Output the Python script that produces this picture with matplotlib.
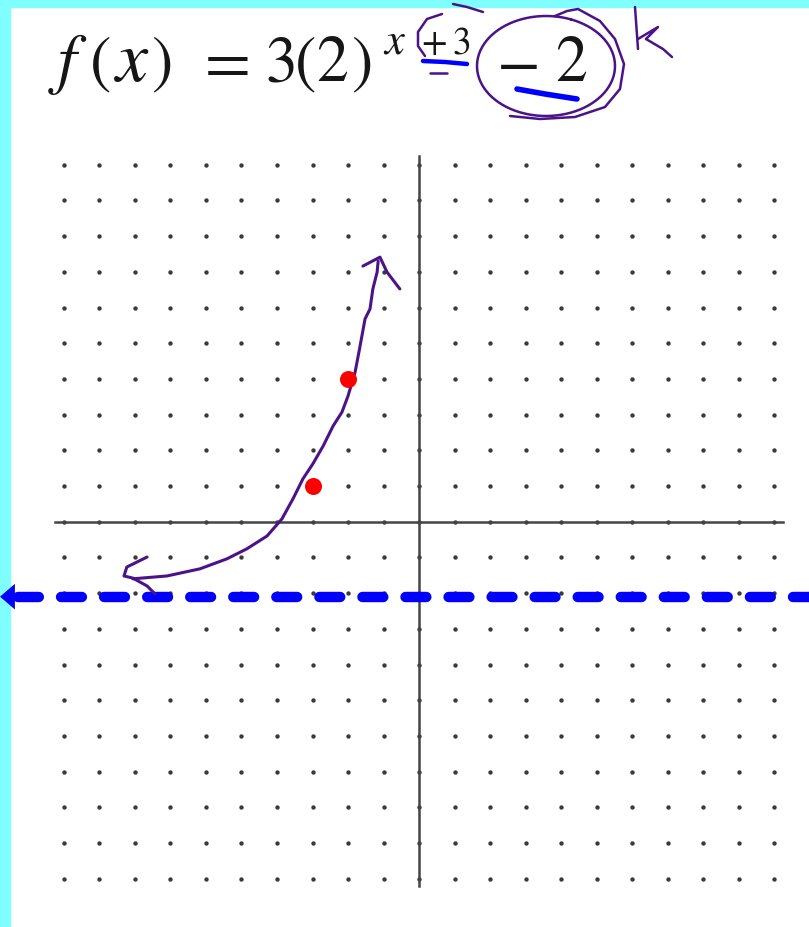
import numpy as np
import matplotlib.pyplot as plt
from matplotlib.patches import Rectangle
from matplotlib.transforms import Affine2D

plt.rcParams['mathtext.fontset'] = 'stix'
plt.rcParams['lines.scale_dashes'] = False

# dot grid and axes
grid_x = list(range(-10, 11))
grid_y = list(range(-10, 11))

# plotted points of f(x) = 3(2)^(x+3) - 2
points_x = [-3, -2]
points_y = [1, 4]

# horizontal asymptote
asymptote_y = -2.1

# hand sketched curve (lower arrow tip up to upper arrow tip)
curve_x = [-8.06, -7.10, -6.17, -5.41, -4.85, -4.28, -3.86, -3.55, -3.27, -2.99,
           -2.70, -2.42, -2.17, -2.00, -1.80, -1.66, -1.52, -1.38, -1.30, -1.18, -1.15]
curve_y = [-1.60, -1.52, -1.32, -1.04, -0.76, -0.40, 0.08, 0.64, 1.20, 1.62,
           2.12, 2.68, 3.07, 3.52, 4.19, 4.92, 5.68, 5.96, 6.52, 6.99, 7.30]
low_head_x = [-7.66, -8.23, -8.31, -8.06, -7.66, -7.44]
low_head_y = [-0.99, -1.27, -1.52, -1.58, -1.80, -2.02]
up_head_x = [-1.58, -1.10, -0.90, -0.54]
up_head_y = [7.16, 7.41, 6.99, 6.52]

# equation glyphs: (text, centre x px, baseline y px, size)
eq_parts = [(r'$f$', 68, 81, 48), (r'$($', 100, 81, 46), (r'$x$', 132, 81, 52),
            (r'$)$', 161, 81, 46), (r'$=$', 222, 81, 48),
            (r'$3$', 280, 81, 46), (r'$($', 305, 81, 46), (r'$2$', 332, 81, 46),
            (r'$)$', 361, 81, 46),
            (r'$x$', 395, 53, 32), (r'$+$', 434, 54, 27), (r'$3$', 461, 54, 27),
            (r'$-$', 517, 81, 46), (r'$2$', 571, 81, 46)]

W, H = 809, 928
fig = plt.figure(figsize=(W / 100, H / 100), dpi=100)
ax = fig.add_axes([0, 0, 1, 1])
ax.set_xlim(-419 / 35.5, (W - 419) / 35.5)
ax.set_ylim(-(H - 522.7) / 35.7, 522.7 / 35.7)
ax.axis('off')

# pixel coordinates, origin top left
pix = Affine2D().scale(1 / W, -1 / H).translate(0, 1) + fig.transFigure

cyan = '#80FFFF'
ax.add_patch(Rectangle((0, 0), W, 8, transform=pix, color=cyan, clip_on=False, zorder=0))
ax.add_patch(Rectangle((0, 0), 10.5, H, transform=pix, color=cyan, clip_on=False, zorder=0))

gx, gy = np.meshgrid(grid_x, grid_y)
ax.scatter(gx.ravel(), gy.ravel(), s=10, color='#3a3a3a', linewidths=0, zorder=2)
ax.plot([min(grid_x) - 0.25, max(grid_x) + 0.25], [0, 0], color='#454545', lw=1.8, zorder=2)
ax.plot([0, 0], [min(grid_y) - 0.2, max(grid_y) + 0.25], color='#454545', lw=1.8, zorder=2)

# dashed asymptote with arrow on the left
xl = ax.get_xlim()
ax.plot([xl[0] + 0.5, xl[1] + 0.5], [asymptote_y, asymptote_y], color='#0000FF', lw=7.5,
        dashes=(15, 16), dash_capstyle='round', zorder=3, clip_on=True)
ax.fill([xl[0], xl[0] + 0.42, xl[0] + 0.42], [asymptote_y, asymptote_y + 0.36, asymptote_y - 0.36],
        color='#0000FF', lw=0, zorder=3, clip_on=False)

purple = '#4B1388'
ax.plot(curve_x, curve_y, color=purple, lw=2.2, solid_capstyle='round', zorder=4)
ax.plot(low_head_x, low_head_y, color=purple, lw=2.2, solid_capstyle='round', zorder=4)
ax.plot(up_head_x, up_head_y, color=purple, lw=2.2, solid_capstyle='round', zorder=4)
ax.scatter(points_x, points_y, s=150, color='#FF0000', linewidths=0, zorder=5)

# equation
for txt, x0, y0, size in eq_parts:
    ax.text(x0, y0, txt, transform=pix, fontsize=size, color='#161616',
            va='baseline', ha='center')

# ink marks around the equation
ink = dict(transform=pix, color=purple, lw=1.8, clip_on=False,
           solid_capstyle='round', solid_joinstyle='round')
t = np.linspace(0, 2 * np.pi, 90)
ax.plot(546 + 69 * np.cos(t - 1.2), 67 + 50 * np.sin(t - 1.2), **ink)
ax.plot([555, 567, 578, 600, 615, 624, 620, 605, 575, 540, 510],
        [17, 12, 10, 22, 40, 65, 90, 108, 118, 120, 117], **ink)
ax.plot([442, 427, 418, 418, 425], [15, 20, 33, 47, 57], **ink)
ax.plot([453, 467, 483], [5, 8, 13], **ink)
ax.plot([430, 447], [74, 74], **ink)
ax.plot([635, 638], [8, 50], **ink)
ax.plot([638, 658, 646], [40, 28, 40], **ink)
ax.plot([646, 663, 672], [40, 50, 58], **ink)
ax.plot([423, 445, 467], [62, 63, 65], transform=pix, color='#0000FF', lw=3.2,
        solid_capstyle='round')
ax.plot([517, 545, 577], [90, 95, 100], transform=pix, color='#0000FF', lw=4,
        solid_capstyle='round')

fig.savefig('out.png', dpi=100, facecolor='white')
